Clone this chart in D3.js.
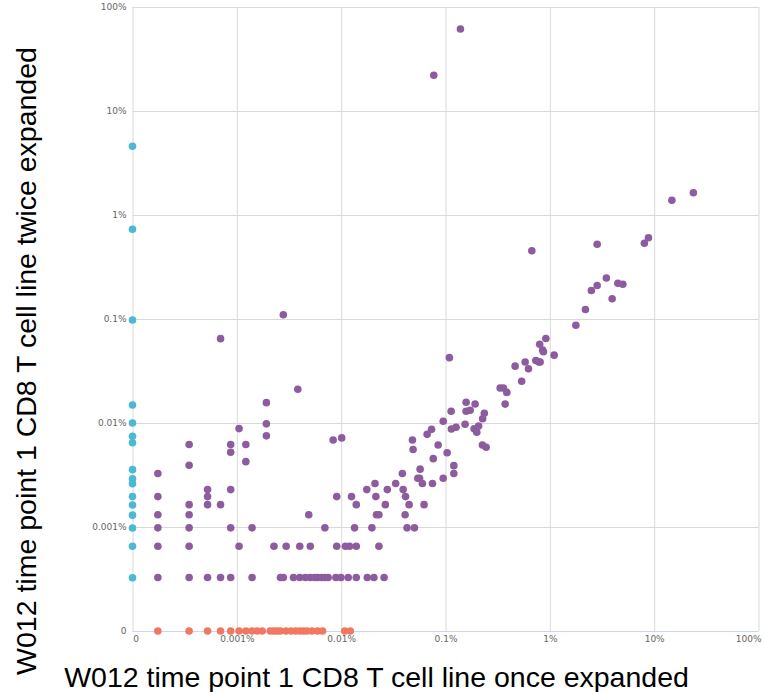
<!DOCTYPE html>
<html>
<head>
<meta charset="utf-8">
<script src="https://cdn.jsdelivr.net/npm/d3@7"></script>
<style>
  body { margin: 0; background: #fff; }
  svg { display: block; }
  .tick text { font-family: "DejaVu Sans", sans-serif; font-size: 9px; fill: #666; }
  .title { font-family: "Liberation Sans", Arial, sans-serif; font-size: 28.5px; fill: #000; }
</style>
</head>
<body>
<svg id="chart" width="764" height="692"></svg>
<script>
// Clone frequencies in percent. A zero means the clone was not seen in that sample.
const tickValues = [1e-4, 1e-3, 1e-2, 1e-1, 1, 10, 100];
const tickLabels = ["0", "0.001%", "0.01%", "0.1%", "1%", "10%", "100%"];

// Clones seen in both samples: frequency once expanded / twice expanded
const sharedOnce = [
  0.000175, 0.000175, 0.000175, 0.000175, 0.000175, 0.000175,
  0.000349, 0.000349, 0.000349, 0.000349, 0.000349, 0.000349, 0.000349,
  0.000524, 0.000524, 0.000524, 0.000524,
  0.000698, 0.000698,
  0.000873, 0.000873, 0.000873, 0.000873, 0.000873,
  0.00105, 0.00105, 0.00122, 0.00122, 0.00140, 0.00140,
  0.00192, 0.00192, 0.00192, 0.00227, 0.00262, 0.00279, 0.00297,
  0.00384, 0.00489, 0.00698, 0.00401, 0.00506, 0.00907, 0.01099, 0.01204, 0.01396, 0.0230,
  0.00349, 0.00401, 0.00454, 0.00506, 0.00558, 0.00593, 0.00646, 0.00698, 0.00750,
  0.00890, 0.00995, 0.01169, 0.01396, 0.0178, 0.0206, 0.0258,
  0.00907, 0.01256, 0.01396, 0.01344, 0.00838, 0.01012,
  0.0176, 0.0211, 0.0215, 0.0218, 0.0230, 0.0197, 0.0277, 0.0265, 0.0333,
  0.0386, 0.0393, 0.0414, 0.0448, 0.0410, 0.0428, 0.0504, 0.0482, 0.0489,
  0.0571, 0.0543, 0.0564, 0.0600, 0.0623, 0.0667, 0.0735, 0.0763, 0.0750,
  0.0850, 0.0951, 0.1037, 0.0951, 0.1202, 0.1202, 0.1133, 0.1139, 0.1263, 0.1090,
  0.1576, 0.1922, 0.1576, 0.1722, 0.1541, 0.1880, 0.2077, 0.1995, 0.2269, 0.2355,
  0.2259, 0.2451, 0.334, 0.359, 0.387, 0.373, 0.465, 0.580, 0.624, 0.734, 0.784,
  0.807, 0.537, 0.916, 0.799, 0.853, 0.868, 1.100, 1.776, 2.194, 2.500, 2.842,
  3.481, 3.957, 4.487, 5.010, 2.842, 0.672, 8.054, 8.815, 14.78, 23.76,
  0.1390, 0.0772, 0.000698, 0.00279
];
const sharedTwice = [
  0.00327, 0.00196, 0.00131, 0.000981, 0.000654, 0.000327,
  0.00621, 0.00392, 0.00164, 0.00131, 0.000981, 0.000654, 0.000327,
  0.00229, 0.00196, 0.00164, 0.000327,
  0.00164, 0.000327,
  0.00621, 0.00523, 0.00229, 0.000981, 0.000327,
  0.00883, 0.000654, 0.00621, 0.00425, 0.000981, 0.000327,
  0.0157, 0.00981, 0.00752, 0.000654, 0.000327, 0.000327, 0.000654,
  0.0211, 0.00131, 0.000981, 0.000654, 0.000654, 0.000654, 0.000654, 0.000654, 0.000654, 0.000654,
  0.000327, 0.000327, 0.000327, 0.000327, 0.000327, 0.000327, 0.000327, 0.000327, 0.000327,
  0.000327, 0.000327, 0.000327, 0.000327, 0.000327, 0.000327, 0.000327,
  0.00196, 0.00196, 0.00164, 0.000981, 0.00687, 0.00719,
  0.00229, 0.00262, 0.00196, 0.00131, 0.00131, 0.000981, 0.00229, 0.00164, 0.00262,
  0.00327, 0.00229, 0.00196, 0.00164, 0.00131, 0.000981, 0.000981, 0.00687, 0.00556,
  0.00360, 0.00294, 0.00294, 0.00262, 0.00164, 0.00778, 0.00869, 0.00454, 0.00262,
  0.00614, 0.01038, 0.00518, 0.00294, 0.00389, 0.00327, 0.01296, 0.00875, 0.00909, 0.0425,
  0.01585, 0.01523, 0.01299, 0.01325, 0.00972, 0.00880, 0.00936, 0.00814, 0.01100, 0.01240,
  0.00614, 0.00584, 0.0217, 0.0217, 0.0197, 0.0152, 0.0352, 0.0386, 0.0332, 0.0399, 0.0386,
  0.0386, 0.0252, 0.0649, 0.0571, 0.0504, 0.0485, 0.0449, 0.0870, 0.1234, 0.1879, 0.2100,
  0.2479, 0.1568, 0.2205, 0.2157, 0.5228, 0.4535, 0.5356, 0.6037, 1.388, 1.638,
  61.43, 22.05, 0.0647, 0.1100
];

// Clones found only twice expanded (once-expanded frequency 0)
const onlyTwice = [
  4.578, 0.729, 0.0978, 0.01489, 0.01000, 0.00745, 0.00646, 0.00356, 0.00291,
  0.00261, 0.00196, 0.00163, 0.00130, 0.000978, 0.000652, 0.000325
];

// Clones found only once expanded (twice-expanded frequency 0)
const onlyOnce = [
  0.000175, 0.000349, 0.000524, 0.000698, 0.000873, 0.00105, 0.00122, 0.00140,
  0.00157, 0.00175, 0.00209, 0.00227, 0.00244, 0.00262, 0.00297, 0.00332, 0.00366,
  0.00401, 0.00436, 0.00471, 0.00524, 0.00593, 0.00663, 0.01082, 0.01222
];

const colors = { shared: "#8d5c9f", onlyTwice: "#4bb8d4", onlyOnce: "#f07862" };

const svg = d3.select("#chart");
const plotLeft = 132.5, plotRight = 758.5, plotTop = 7, plotBottom = 631;

const x = d3.scaleLog().domain([tickValues[0], tickValues[tickValues.length - 1]]).range([plotLeft, plotRight]);
const y = d3.scaleLog().domain([tickValues[0], tickValues[tickValues.length - 1]]).range([plotBottom, plotTop]);
// zero sits on the lowest tick, labelled "0"
const px = v => v > 0 ? x(v) : x(tickValues[0]);
const py = v => v > 0 ? y(v) : y(tickValues[0]);

const fmt = d => tickLabels[tickValues.indexOf(d)];

// horizontal grid and y labels
const yAxis = svg.append("g")
  .attr("transform", `translate(${plotLeft},0)`)
  .call(d3.axisLeft(y).tickValues(tickValues).tickFormat(fmt)
    .tickSize(-(plotRight - plotLeft)).tickPadding(6));
yAxis.select(".domain").remove();
yAxis.selectAll(".tick line").attr("stroke", "#d9d9d9");

// vertical grid and x labels
const xAxis = svg.append("g")
  .attr("transform", `translate(0,${plotBottom})`)
  .call(d3.axisBottom(x).tickValues(tickValues).tickFormat(fmt)
    .tickSize(-(plotBottom - plotTop)).tickPadding(4.5));
xAxis.select(".domain").remove();
xAxis.selectAll(".tick line").attr("stroke", "#d9d9d9");
xAxis.selectAll(".tick text").filter(d => d === tickValues[0]).attr("dx", 3);
// keep the last label inside the frame
xAxis.selectAll(".tick text").filter(d => d === tickValues[tickValues.length - 1])
  .attr("text-anchor", "end").attr("dx", 2.5);

// x axis line
svg.append("line")
  .attr("x1", plotLeft).attr("x2", plotRight).attr("y1", plotBottom + 0.5).attr("y2", plotBottom + 0.5)
  .attr("stroke", "#ccd6eb");

const r = 3.8;
svg.append("g").selectAll("circle").data(onlyTwice).join("circle")
  .attr("cx", px(0)).attr("cy", d => py(d)).attr("r", r).attr("fill", colors.onlyTwice);
svg.append("g").selectAll("circle").data(onlyOnce).join("circle")
  .attr("cx", d => px(d)).attr("cy", py(0)).attr("r", r).attr("fill", colors.onlyOnce);
svg.append("g").selectAll("circle").data(d3.range(sharedOnce.length)).join("circle")
  .attr("cx", i => px(sharedOnce[i])).attr("cy", i => py(sharedTwice[i]))
  .attr("r", r).attr("fill", colors.shared);

// axis titles
svg.append("text").attr("class", "title")
  .attr("x", 376.5).attr("y", 687).attr("text-anchor", "middle")
  .text("W012 time point 1 CD8 T cell line once expanded");
svg.append("text").attr("class", "title")
  .attr("transform", "translate(36,361) rotate(-90)").attr("text-anchor", "middle")
  .text("W012 time point 1 CD8 T cell line twice expanded");
</script>
</body>
</html>
